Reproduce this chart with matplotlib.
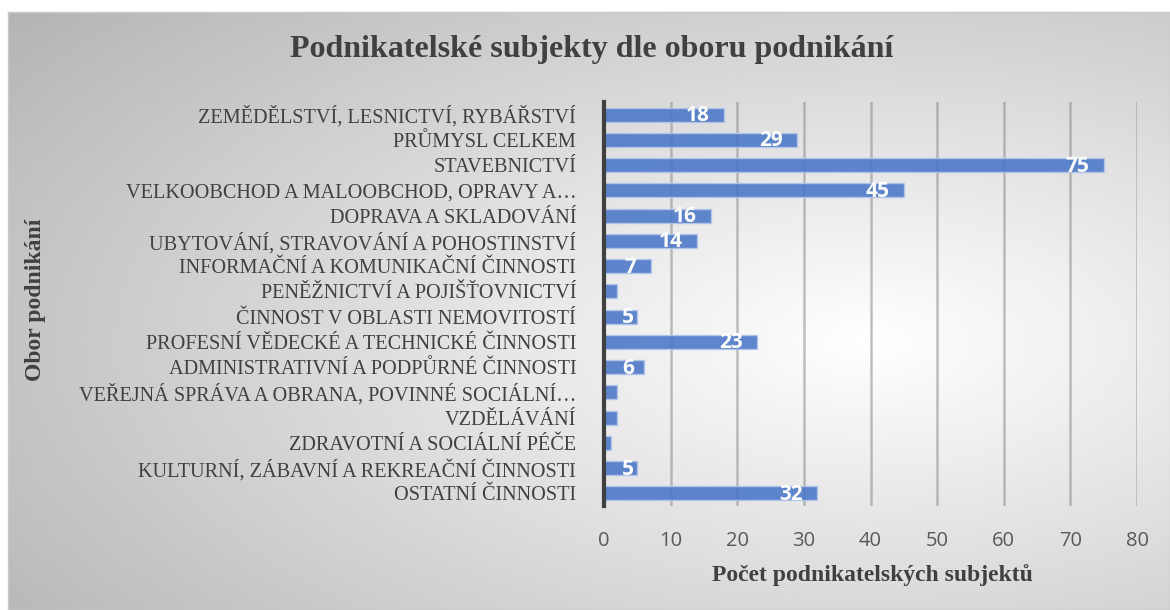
import numpy as np
import matplotlib.pyplot as plt

# data
kategorie = [
    "ZEMĚDĚLSTVÍ, LESNICTVÍ, RYBÁŘSTVÍ",
    "PRŮMYSL CELKEM",
    "STAVEBNICTVÍ",
    "VELKOOBCHOD A MALOOBCHOD, OPRAVY A…",
    "DOPRAVA A SKLADOVÁNÍ",
    "UBYTOVÁNÍ, STRAVOVÁNÍ A POHOSTINSTVÍ",
    "INFORMAČNÍ A KOMUNIKAČNÍ ČINNOSTI",
    "PENĚŽNICTVÍ A POJIŠŤOVNICTVÍ",
    "ČINNOST V OBLASTI NEMOVITOSTÍ",
    "PROFESNÍ VĚDECKÉ A TECHNICKÉ ČINNOSTI",
    "ADMINISTRATIVNÍ A PODPŮRNÉ ČINNOSTI",
    "VEŘEJNÁ SPRÁVA A OBRANA, POVINNÉ SOCIÁLNÍ…",
    "VZDĚLÁVÁNÍ",
    "ZDRAVOTNÍ A SOCIÁLNÍ PÉČE",
    "KULTURNÍ, ZÁBAVNÍ A REKREAČNÍ ČINNOSTI",
    "OSTATNÍ ČINNOSTI",
]
pocty = [18, 29, 75, 45, 16, 14, 7, 2, 5, 23, 6, 2, 2, 1, 5, 32]
popisky = ["18", "29", "75", "45", "16", "14", "7", "", "5", "23", "6", "", "", "", "5", "32"]
x_ticks = [0, 10, 20, 30, 40, 50, 60, 70, 80]

W, H = 1170, 610
fig = plt.figure(figsize=(W / 100, H / 100), dpi=100)
fig.patch.set_facecolor("white")

# pozadi - radialni gradient
bg = fig.add_axes([8 / W, 0, 1 - 8 / W, 1 - 12 / H])
yy, xx = np.mgrid[0:1:300j, 0:1:600j]
r = np.sqrt(((xx - 0.74) / 0.8) ** 2 + ((yy - 0.45) / 0.75) ** 2)
shade = 1 - 0.25 * np.clip(r, 0, 1.2)
bg.imshow(shade, cmap="gray", vmin=0, vmax=1, aspect="auto",
          extent=[0, 1, 0, 1], origin="lower", interpolation="bilinear")
bg.set_xticks([])
bg.set_yticks([])
for s in bg.spines.values():
    s.set_color("#c8c8c8")
    s.set_linewidth(1)

ax_w = 1137 - 604
ax = fig.add_axes([604 / W, 1 - 506 / H, ax_w / W, (506 - 102) / H])
ax.patch.set_alpha(0)
y = np.arange(len(kategorie))
ax.barh(y, pocty, height=0.56, color="#4a77c8", alpha=0.88,
        edgecolor="#b4c6ea", linewidth=1, zorder=3)
ax.set_ylim(15.5, -0.5)
ax.set_xlim(0, 80)
ax.set_xticks(x_ticks)
ax.xaxis.grid(True, color="#8c8c8c", alpha=0.55, linewidth=1.8, zorder=0)
ax.set_yticks(y)
ax.set_yticklabels(kategorie, family="Liberation Serif", fontsize=14.6,
                   color="#404040")
ax.tick_params(axis="y", length=0, pad=20)
ax.tick_params(axis="x", length=0, pad=18, labelsize=14.5, labelcolor="#595959")
for lbl in ax.get_xticklabels():
    lbl.set_family("Open Sans")
for s in ["top", "right", "bottom"]:
    ax.spines[s].set_visible(False)
ax.spines["left"].set_color("#404040")
ax.spines["left"].set_linewidth(3)
ax.spines["left"].set_zorder(4)

# popisky hodnot - uvnitr konce sloupce, u kratkych prisazene k zacatku
px_na_jednotku = ax_w / 80
for yi, v, t in zip(y, pocty, popisky):
    if not t:
        continue
    sirka = 10 * len(t)
    if v * px_na_jednotku - 16 - sirka < 15:
        ax.annotate(t, (0, yi), xytext=(18, -1), textcoords="offset pixels",
                    ha="left", va="center", color="white", fontsize=15,
                    fontweight="bold", family="Open Sans", zorder=5)
    else:
        ax.annotate(t, (v, yi), xytext=(-14, -1), textcoords="offset pixels",
                    ha="right", va="center", color="white", fontsize=15,
                    fontweight="bold", family="Open Sans", zorder=5)

fig.text(592 / W, 1 - 50 / H, "Podnikatelské subjekty dle oboru podnikání",
         ha="center", va="center", family="Liberation Serif",
         fontsize=23, fontweight="bold", color="#404040")
fig.text(36 / W, 1 - 300 / H, "Obor podnikání", rotation=90,
         ha="center", va="center", family="Liberation Serif",
         fontsize=17, fontweight="bold", color="#404040")
fig.text(872 / W, 1 - 575 / H, "Počet podnikatelských subjektů",
         ha="center", va="center", family="Liberation Serif",
         fontsize=17, fontweight="bold", color="#404040")

fig.savefig("out.png", dpi=100)
